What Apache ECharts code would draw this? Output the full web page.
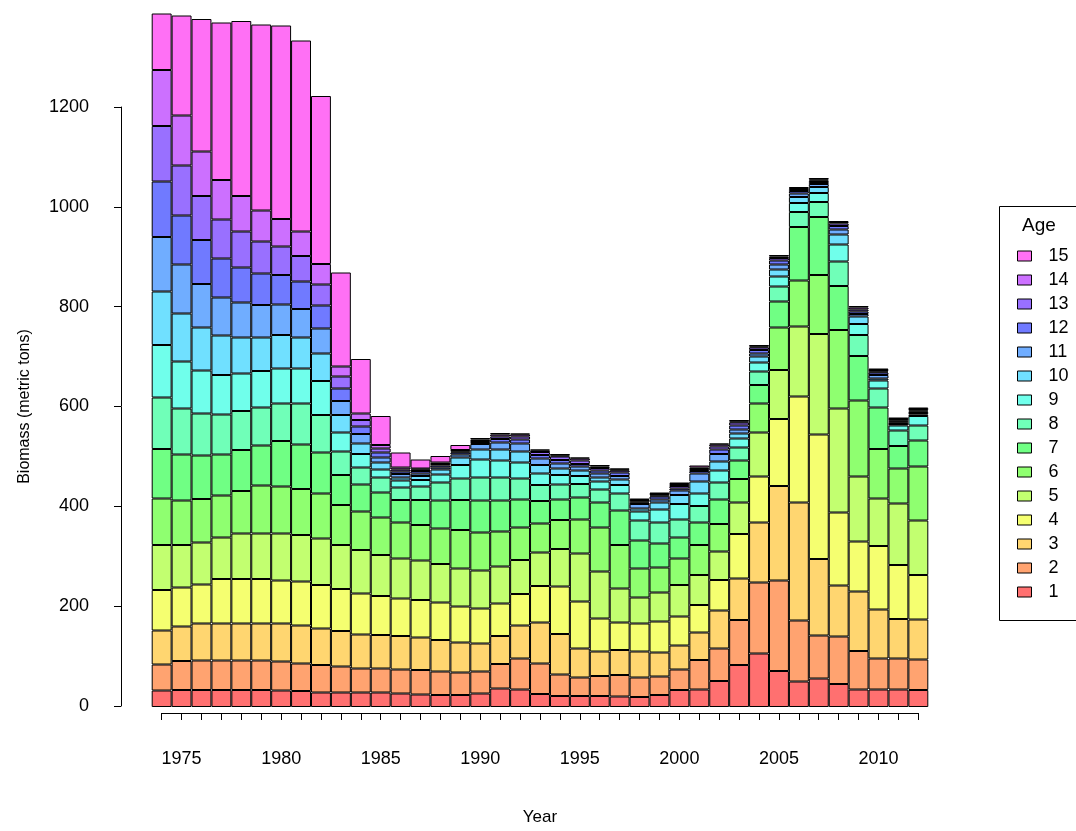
<!DOCTYPE html>
<html>
<head>
<meta charset="utf-8">
<script src="https://cdn.jsdelivr.net/npm/echarts@6/dist/echarts.min.js"></script>
<style>
  html, body { margin: 0; padding: 0; background: #fff; }
  #chart-wrapper { width: 1076px; height: 831px; }
</style>
</head>
<body>
<div id="chart-wrapper"></div>
<script>
// biomass by age class (metric tons), 1974-2012
const years = ["1974","1975","1976","1977","1978","1979","1980","1981","1982","1983",
  "1984","1985","1986","1987","1988","1989","1990","1991","1992","1993",
  "1994","1995","1996","1997","1998","1999","2000","2001","2002","2003",
  "2004","2005","2006","2007","2008","2009","2010","2011","2012"];

const age1 = [33,34,34,34,34,34,33,32,29,29,29,29,27,25,24,24,27,37,35,26,22,22,22,21,20,24,34,35,52,84,107,72,51,57,46,35,35,35,34];
const age2 = [52,58,59,59,59,59,58,55,55,52,48,48,48,49,47,45,44,49,62,61,43,37,40,43,39,37,41,59,65,90,142,181,122,86,95,77,62,62,61];
const age3 = [68,69,74,74,74,74,76,76,73,71,68,67,67,65,63,60,56,56,66,82,81,58,49,50,52,48,48,55,76,83,120,189,236,153,102,119,98,79,80];
const age4 = [81,78,78,89,89,89,86,88,87,84,82,78,75,75,75,72,70,65,63,73,95,94,66,55,56,62,58,55,61,89,92,134,212,249,146,100,127,108,89];
const age5 = [90,85,84,83,91,91,94,93,93,88,87,82,80,79,77,76,76,74,68,67,75,96,94,68,52,58,63,60,57,63,88,98,140,201,208,130,95,123,109];
const age6 = [93,89,87,84,85,96,94,92,90,80,77,75,72,71,71,77,76,70,65,58,58,68,88,87,58,50,53,60,55,47,58,85,92,118,157,152,99,70,108];
const age7 = [99,92,87,82,82,80,91,89,82,60,54,50,45,50,56,60,64,62,56,45,41,44,50,69,56,48,42,45,49,37,37,52,107,116,88,89,83,45,52];
const age8 = [103,92,84,80,78,76,75,82,75,47,34,30,25,27,36,43,46,46,42,32,30,27,26,34,40,42,36,33,34,26,27,30,30,30,49,42,38,31,30];
const age9 = [105,94,86,79,75,73,70,70,68,38,27,16,14,13,16,27,36,34,32,23,19,16,16,17,18,26,31,25,24,18,18,20,18,18,34,22,16,10,19];
const age10 = [107,96,86,79,72,67,67,62,55,35,21,14,6,8,10,15,20,22,22,17,13,11,8,11,6,14,18,24,18,10,12,14,12,12,20,15,4,3,3];
const age11 = [109,98,87,76,70,65,61,57,50,28,19,10,7,5,4,6,11,14,16,13,10,8,8,7,9,6,9,16,15,8,6,10,7,6,10,5,7,3,3];
const age12 = [111,98,88,78,70,63,59,55,46,25,15,10,5,5,4,4,2,7,8,7,7,5,6,7,3,6,4,5,9,8,7,8,5,4,7,5,5,2,3];
const age13 = [111,100,88,78,72,64,57,51,42,24,13,8,4,3,3,2,4,5,6,6,7,7,5,4,2,2,5,4,6,6,5,5,4,3,5,4,2,2,2];
const age14 = [112,100,89,79,71,62,55,49,41,20,13,7,4,2,3,3,3,4,4,3,2,4,3,2,3,3,4,3,4,2,2,3,2,2,3,4,3,3,3];
const age15 = [113,200,265,315,350,372,387,382,336,188,109,58,30,18,13,10,3,3,2,2,3,2,3,2,3,3,3,4,2,3,3,3,2,3,2,3,3,3,3];

const ageNames = ["1","2","3","4","5","6","7","8","9","10","11","12","13","14","15"];
const xLabelYears = [1975, 1980, 1985, 1990, 1995, 2000, 2005, 2010];

const ages = [age1, age2, age3, age4, age5, age6, age7, age8, age9, age10, age11, age12, age13, age14, age15];
const colors = ["#FF7070","#FFA370","#FFD670","#F5FF70","#C2FF70","#8FFF70","#70FF84",
  "#70FFB8","#70FFEB","#70E0FF","#70ADFF","#707AFF","#9970FF","#CC70FF","#FF70F5"];

const FONT = "'Liberation Sans', Arial, sans-serif";

const chartDom = document.getElementById("chart-wrapper");
const chart = echarts.init(chartDom, null, { renderer: "canvas" });

const series = ages.map((vals, i) => ({
  name: ageNames[i],
  type: "bar",
  stack: "biomass",
  xAxisIndex: 0,
  yAxisIndex: 0,
  barCategoryGap: "0%",
  data: vals,
  itemStyle: { color: colors[i], borderColor: "#000", borderWidth: 1 },
  emphasis: { disabled: true },
}));

const option = {
  animation: false,
  backgroundColor: "#fff",
  textStyle: { fontFamily: FONT },
  grid: [
    // bars
    { left: 151.7, right: 147.7, top: 7, bottom: 124 },
    // axes drawn like base R (line from first to last tick)
    { left: 161.7, right: 157.7, top: 107, bottom: 124 },
  ],
  xAxis: [
    { type: "category", data: years, gridIndex: 0, show: false },
    {
      type: "value", gridIndex: 1, min: 1974, max: 2012, interval: 1,
      position: "bottom", offset: 7,
      axisLine: { show: true, onZero: false, lineStyle: { color: "#000", width: 1 } },
      axisTick: { show: true, inside: false, length: 7, lineStyle: { color: "#000" } },
      axisLabel: {
        customValues: xLabelYears, margin: 37, color: "#000", fontSize: 18, fontFamily: FONT,
        formatter: (v) => String(v),
      },
      splitLine: { show: false },
      name: "Year", nameLocation: "middle", nameGap: 96,
      nameTextStyle: { color: "#000", fontSize: 17, fontFamily: FONT },
    },
  ],
  yAxis: [
    { type: "value", gridIndex: 0, min: 0, max: 1400, show: false },
    {
      type: "value", gridIndex: 1, min: 0, max: 1200, interval: 200,
      position: "left", offset: 40.7,
      axisLine: { show: true, onZero: false, lineStyle: { color: "#000", width: 1 } },
      axisTick: { show: true, inside: false, length: 7, lineStyle: { color: "#000" } },
      axisLabel: {
        margin: 32, color: "#000", fontSize: 18, fontFamily: FONT,
        formatter: (v) => String(v),
      },
      splitLine: { show: false },
      name: "Biomass (metric tons)", nameLocation: "middle", nameGap: 88, nameRotate: 90,
      nameTextStyle: { color: "#000", fontSize: 16, fontFamily: FONT },
    },
  ],
  legend: {
    orient: "vertical",
    left: 1017,
    top: 247,
    padding: 0,
    itemWidth: 14,
    itemHeight: 10,
    itemGap: 6,
    icon: "rect",
    data: ageNames.slice().reverse(),
    itemStyle: { borderColor: "#000", borderWidth: 1 },
    textStyle: { color: "#000", fontSize: 18, lineHeight: 18, fontFamily: FONT, padding: [0, 0, 0, 12] },
    selectedMode: false,
  },
  graphic: [
    {
      type: "rect", left: 999, top: 206, z: -1,
      shape: { width: 120, height: 414 },
      style: { fill: "#fff", stroke: "#000", lineWidth: 1 },
    },
    {
      type: "text", left: 1022, top: 216,
      style: { text: "Age", fill: "#000", font: "19px " + FONT },
    },
  ],
  series: series,
};

chart.setOption(option);
</script>
</body>
</html>
